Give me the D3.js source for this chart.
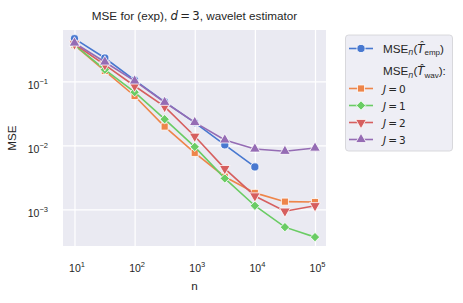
<!DOCTYPE html>
<html>
<head>
<meta charset="utf-8">
<script src="https://cdn.jsdelivr.net/npm/d3@7"></script>
<style>
  body { margin: 0; background: #fff; }
  svg text { font-family: "Liberation Sans", Arial, sans-serif; fill: #262626; }
  .math { font-family: "DejaVu Sans", sans-serif; }
</style>
</head>
<body>
<svg id="chart" width="463" height="303"></svg>
<script>
// sample sizes n
var nValues = [10, 32, 100, 316, 1000, 3162, 10000, 31623, 100000]

// MSE of the empirical estimator
var mseEmp = [0.467, 0.233, 0.105, 0.048, 0.0227, 0.0102, 0.00461]

// MSE of the wavelet estimator, one list per level J
var mseJ0 = [0.37, 0.146, 0.0593, 0.0197, 0.00764, 0.00324, 0.00181, 0.00132, 0.0013]
var mseJ1 = [0.372, 0.153, 0.068, 0.0257, 0.0095, 0.00305, 0.00114, 0.000527, 0.000368]
var mseJ2 = [0.386, 0.182, 0.085, 0.0404, 0.0139, 0.00434, 0.00162, 0.000937, 0.00114]
var mseJ3 = [0.40, 0.202, 0.102, 0.0473, 0.0229, 0.0122, 0.0088, 0.0081, 0.0091]

var xTicks = [1e1, 1e2, 1e3, 1e4, 1e5]
var yTicks = [1e-1, 1e-2, 1e-3]

var series = [
  {vals: mseEmp, color: '#4878D0', symbol: 'circle'},
  {vals: mseJ0, color: '#EE854A', symbol: 'square', label: '0'},
  {vals: mseJ1, color: '#6ACC64', symbol: 'diamond', label: '1'},
  {vals: mseJ2, color: '#D65F5F', symbol: 'tridown', label: '2'},
  {vals: mseJ3, color: '#956CB4', symbol: 'triup', label: '3'}
]

var svg = d3.select('#chart')
var pLeft = 63, pRight = 326, pTop = 30, pBottom = 246

var x = d3.scaleLog()
  .domain([Math.pow(10, 0.809), Math.pow(10, 5.183)])
  .range([pLeft, pRight])

var y = d3.scaleLog()
  .domain([Math.pow(10, -3.573), Math.pow(10, -0.195)])
  .range([pBottom, pTop])

svg.append('rect')
  .attr('x', pLeft).attr('y', pTop)
  .attr('width', pRight - pLeft).attr('height', pBottom - pTop)
  .style('fill', '#EAEAF2')

// grid
svg.append('g')
  .attr('transform', 'translate(0,' + pBottom + ')')
  .call(d3.axisBottom(x).tickValues(xTicks).tickSize(-(pBottom - pTop)).tickFormat(''))
svg.append('g')
  .attr('transform', 'translate(' + pLeft + ',0)')
  .call(d3.axisLeft(y).tickValues(yTicks).tickSize(-(pRight - pLeft)).tickFormat(''))
svg.selectAll('.domain').remove()
svg.selectAll('.tick line').style('stroke', '#fff').style('stroke-width', 1.2)

function powLabel(sel, exp){
  sel.append('tspan').text('10')
  sel.append('tspan').attr('dy', -5.5).style('font-size', '7.5px').text(exp)
}

xTicks.forEach(function(t){
  var e = Math.round(Math.log10(t))
  var tx = svg.append('text')
    .attr('x', x(t) + 2.5).attr('y', 272)
    .attr('text-anchor', 'middle')
    .style('font-size', '10.5px')
  powLabel(tx, String(e))
})

yTicks.forEach(function(t){
  var e = Math.round(Math.log10(t))
  var ty = svg.append('text')
    .attr('x', 48).attr('y', y(t) + 7.8)
    .attr('text-anchor', 'end')
    .style('font-size', '10.5px')
  powLabel(ty, '\u2212' + String(-e))
})

// markers
function marker(g, type, cx, cy, color){
  var s
  var rot = 0
  if(type == 'circle') s = d3.symbol(d3.symbolCircle, 52)
  else if(type == 'square') s = d3.symbol(d3.symbolSquare, 50)
  else if(type == 'diamond'){ s = d3.symbol(d3.symbolSquare, 44); rot = 45 }
  else s = d3.symbol(d3.symbolTriangle, 50)
  if(type == 'tridown') rot = 180
  g.append('path')
    .attr('d', s())
    .attr('transform', 'translate(' + cx + ',' + cy + ') rotate(' + rot + ')')
    .style('fill', color)
    .style('stroke', '#fff')
    .style('stroke-width', 0.8)
}

var line = d3.line()
  .x(function(d){ return x(d[0]) })
  .y(function(d){ return y(d[1]) })

var plot = svg.append('g')
series.forEach(function(s){
  var pts = s.vals.map(function(v, i){ return [nValues[i], v] })
  plot.append('path')
    .datum(pts)
    .attr('d', line)
    .style('fill', 'none')
    .style('stroke', s.color)
    .style('stroke-width', 1.6)
  pts.forEach(function(p){ marker(plot, s.symbol, x(p[0]), y(p[1]), s.color) })
})

// title and axis labels
var title = svg.append('text')
  .attr('x', (pLeft + pRight) / 2).attr('y', 20)
  .attr('text-anchor', 'middle')
  .style('font-size', '11.7px')
title.append('tspan').text('MSE for (exp), ')
title.append('tspan').attr('class', 'math').style('font-style', 'italic').text('d')
title.append('tspan').attr('class', 'math').text('\u2009=\u20093')
title.append('tspan').text(', wavelet estimator')

svg.append('text')
  .attr('x', (pLeft + pRight) / 2).attr('y', 290)
  .attr('text-anchor', 'middle')
  .style('font-size', '11.7px')
  .text('n')

svg.append('text')
  .attr('transform', 'translate(16,138) rotate(-90)')
  .attr('text-anchor', 'middle')
  .style('font-size', '11.7px')
  .text('MSE')

// legend
var lg = svg.append('g')
lg.append('rect')
  .attr('x', 345.5).attr('y', 35)
  .attr('width', 107).attr('height', 116)
  .attr('rx', 3)
  .style('fill', '#EEEEF5')
  .style('stroke', '#D0D0D4')
  .style('stroke-width', 0.8)

function mseLabel(tx, sub){
  tx.append('tspan').text('MSE')
  tx.append('tspan').attr('class', 'math').attr('dy', 2.5).style('font-style', 'italic').style('font-size', '8px').text('n')
  tx.append('tspan').attr('dy', -2.5).text('(')
  tx.append('tspan').attr('class', 'math').style('font-style', 'italic').text('T\u0302')
  tx.append('tspan').attr('dy', 2.5).style('font-size', '8px').text(sub)
  tx.append('tspan').attr('dy', -2.5).text(')')
}

var rows = [48.5, 88.5, 105.5, 122.5, 139.5]
series.forEach(function(s, i){
  var ry = rows[i]
  lg.append('line')
    .attr('x1', 349).attr('x2', 373)
    .attr('y1', ry).attr('y2', ry)
    .style('stroke', s.color).style('stroke-width', 1.6)
  marker(lg, s.symbol, 361, ry, s.color)
  var tx = lg.append('text')
    .attr('x', 383).attr('y', ry + 4)
    .style('font-size', '11.7px')
  if(i == 0){
    mseLabel(tx, 'emp')
  }else{
    tx.style('font-size', '10.5px')
    tx.append('tspan').attr('class', 'math').style('font-style', 'italic').text('J')
    tx.append('tspan').attr('class', 'math').text('\u2009=\u2009' + s.label)
  }
})
var head = lg.append('text')
  .attr('x', 383).attr('y', 75)
  .style('font-size', '11.7px')
mseLabel(head, 'wav')
head.append('tspan').text(':')
</script>
</body>
</html>
